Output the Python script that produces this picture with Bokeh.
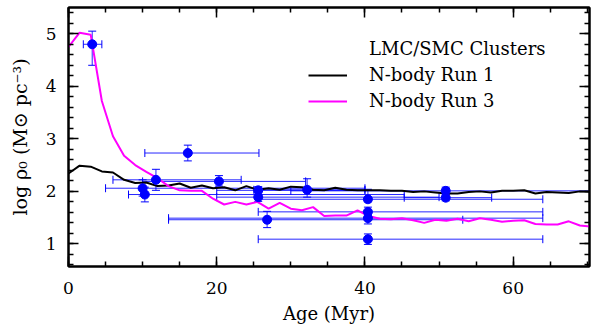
from bokeh.plotting import figure
from bokeh.models import (ColumnDataSource, Range1d, LinearAxis, Whisker, TeeHead,
                          Legend, LegendItem, SingleIntervalTicker)
from bokeh.embed import file_html
from bokeh.resources import INLINE

# LMC/SMC clusters
age    = [3.2, 16.1, 11.8, 20.3, 10.0, 10.3, 25.6, 25.6, 26.8, 32.2, 40.4, 40.4, 40.4, 40.4, 50.9, 50.9]
logrho = [4.80, 2.73, 2.22, 2.19, 2.06, 1.94, 2.02, 1.89, 1.46, 2.03, 1.85, 1.61, 1.49, 1.09, 2.01, 1.88]
age_lo = [2.0, 10.3, 6.0, 10.0, 5.0, 8.1, 20.0, 20.0, 13.5, 25.0, 25.6, 25.6, 13.5, 25.6, 30.0, 45.3]
age_hi = [4.5, 25.7, 23.3, 32.0, 40.0, 45.3, 40.0, 50.0, 53.2, 40.0, 64.0, 64.0, 64.0, 64.0, 75.0, 57.1]
rho_lo = [4.40, 2.58, 2.02, 2.10, 1.91, 1.80, 1.93, 1.81, 1.31, 1.89, 1.80, 1.52, 1.38, 0.99, 1.96, 1.82]
rho_hi = [5.05, 2.88, 2.42, 2.30, 2.22, 2.08, 2.09, 1.97, 1.62, 2.24, 2.04, 1.70, 1.60, 1.19, 2.08, 1.94]

# N-body Run 1
run1_age = [0, 1.5, 3.0, 4.5, 6.0, 7.5, 9.0, 10.5, 12.0, 13.5, 15.0, 16.5, 18.0, 19.5, 21.0, 22.5,
            24.0, 25.5, 27.0, 28.5, 30.0, 31.5, 33.0, 34.5, 36.0, 37.5, 39.0, 40.5, 42.0, 43.5,
            45.0, 46.5, 48.0, 49.5, 51.0, 52.5, 54.0, 55.5, 57.0, 58.5, 60.0, 61.5, 63.0, 64.5,
            66.0, 67.5, 69.0, 70.5]
run1_rho = [2.34, 2.49, 2.47, 2.38, 2.36, 2.22, 2.16, 2.17, 2.10, 2.11, 2.15, 2.07, 2.11, 2.06, 2.08, 2.02,
            2.10, 2.03, 2.06, 2.03, 2.09, 2.08, 2.03, 2.02, 2.07, 2.03, 2.02, 2.02, 2.02, 2.01,
            2.01, 1.99, 2.00, 1.98, 1.96, 1.96, 1.99, 2.00, 1.98, 2.01, 2.01, 2.02, 1.96, 1.99,
            1.98, 1.97, 2.00, 1.99]

# N-body Run 3
run3_age = [0, 1.5, 3.0, 4.5, 6.0, 7.5, 9.0, 10.5, 12.0, 13.5, 15.0, 16.5, 18.0, 19.5, 21.0, 22.5,
            24.0, 25.5, 27.0, 28.5, 30.0, 31.5, 33.0, 34.5, 36.0, 37.5, 39.0, 40.5, 42.0, 43.5,
            45.0, 46.5, 48.0, 49.5, 51.0, 52.5, 54.0, 55.5, 57.0, 58.5, 60.0, 61.5, 63.0, 64.5,
            66.0, 67.5, 69.0, 70.5]
run3_rho = [4.75, 5.02, 4.98, 3.72, 3.05, 2.68, 2.50, 2.37, 2.25, 2.10, 2.02, 2.01, 2.01, 1.86, 1.75, 1.80,
            1.75, 1.80, 1.67, 1.78, 1.67, 1.64, 1.70, 1.53, 1.54, 1.54, 1.64, 1.53, 1.48, 1.47,
            1.49, 1.45, 1.40, 1.46, 1.44, 1.48, 1.43, 1.49, 1.46, 1.42, 1.44, 1.45, 1.38, 1.37,
            1.37, 1.43, 1.35, 1.33]

FONT = "DejaVu Serif"

xt = SingleIntervalTicker(interval=20, num_minor_ticks=4)
yt = SingleIntervalTicker(interval=1, num_minor_ticks=5)

p = figure(width=591, height=326, output_backend="svg", toolbar_location=None,
           x_range=Range1d(0, 70.3), y_range=Range1d(0.57, 5.5),
           x_axis_type=None, y_axis_type=None,
           min_border_left=68, min_border_right=2, min_border_top=7, min_border_bottom=60)
p.grid.visible = False
p.outline_line_color = "black"
p.outline_line_width = 2
p.background_fill_color = "white"
p.border_fill_color = "white"

bottom = LinearAxis(ticker=xt, axis_label="Age (Myr)")
left = LinearAxis(ticker=yt, axis_label="log ρ₀ (M⊙ pc⁻³)")
top = LinearAxis(ticker=xt)
right = LinearAxis(ticker=yt)
p.add_layout(bottom, "below")
p.add_layout(left, "left")
p.add_layout(top, "above")
p.add_layout(right, "right")

for ax in [bottom, left, top, right]:
    ax.major_tick_in = 10
    ax.major_tick_out = 0
    ax.minor_tick_in = 5
    ax.minor_tick_out = 0
    ax.axis_line_width = 2
    ax.major_tick_line_width = 1.5
    ax.minor_tick_line_width = 1.5
    ax.axis_line_color = "black"
    ax.major_tick_line_color = "black"
    ax.minor_tick_line_color = "black"
    ax.major_label_text_font = FONT
    ax.major_label_text_font_size = "17px"
    ax.major_label_text_color = "black"
    ax.axis_label_text_font = FONT
    ax.axis_label_text_font_size = "18px"
    ax.axis_label_text_font_style = "normal"
    ax.axis_label_text_color = "black"

for ax in [top, right]:
    ax.major_label_text_color = None
    ax.major_label_text_font_size = "1px"
    ax.major_label_standoff = 0

bottom.major_label_standoff = 15
bottom.axis_label_standoff = 6
left.major_label_standoff = 12
left.axis_label_standoff = 12
left.axis_label_text_font_size = "19px"

src = ColumnDataSource(dict(x=age, y=logrho, xlo=age_lo, xhi=age_hi, ylo=rho_lo, yhi=rho_hi))

wx = Whisker(source=src, base="y", lower="xlo", upper="xhi", dimension="width",
             line_color="blue", line_alpha=0.85, line_width=1,
             lower_head=TeeHead(size=8, line_color="blue", line_width=1),
             upper_head=TeeHead(size=8, line_color="blue", line_width=1))
wy = Whisker(source=src, base="x", lower="ylo", upper="yhi", dimension="height",
             line_color="blue", line_alpha=0.85, line_width=1,
             lower_head=TeeHead(size=8, line_color="blue", line_width=1),
             upper_head=TeeHead(size=8, line_color="blue", line_width=1))
p.add_layout(wx)
p.add_layout(wy)

r1 = p.line(run1_age, run1_rho, line_color="black", line_width=2)
r3 = p.line(run3_age, run3_rho, line_color="magenta", line_width=2)
pts = p.scatter("x", "y", source=src, size=9, fill_color="blue", line_color="blue")
leg_pts = p.scatter(x=[], y=[], size=12, fill_color="blue", line_color="blue")

legend = Legend(items=[LegendItem(label="LMC/SMC Clusters", renderers=[leg_pts]),
                       LegendItem(label="N-body Run 1", renderers=[r1]),
                       LegendItem(label="N-body Run 3", renderers=[r3])],
                location=(240, 155), border_line_color=None, background_fill_alpha=0,
                padding=0, margin=0, spacing=5, glyph_width=39, glyph_height=20,
                label_height=20, label_standoff=22, label_text_font=FONT,
                label_text_font_size="18px", label_text_color="black")
p.add_layout(legend)

open("out.html", "w").write(file_html(p, INLINE))
